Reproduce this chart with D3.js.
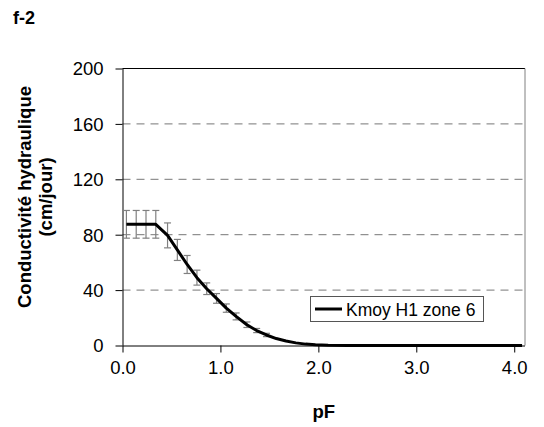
<!DOCTYPE html>
<html><head><meta charset="utf-8">
<script src="https://cdn.jsdelivr.net/npm/d3@7"></script>
<style>
body{margin:0;background:#fff;}
text{font-family:Arial,"Liberation Sans",sans-serif;fill:#000;}
</style></head>
<body><svg id="c" width="544" height="427"></svg>
<script>
const title = "f-2";
const seriesName = "Kmoy H1 zone 6";
const xTitle = "pF";
const yTitle = ["Conductivité hydraulique", "(cm/jour)"];
const xTicks = [0, 1, 2, 3, 4];
const xTickLabels = ["0.0", "1.0", "2.0", "3.0", "4.0"];
const yTicks = [0, 40, 80, 120, 160, 200];
const pF = [0.04, 0.14, 0.24, 0.34, 0.46, 0.56, 0.66, 0.76, 0.86, 0.96, 1.06, 1.16, 1.27, 1.37, 1.47, 1.57, 1.67, 1.77, 1.87, 1.97, 2.1, 2.3, 2.5, 3.0, 3.5, 4.08];
const K  = [87.5, 87.5, 87.5, 87.5, 79.5, 69, 58.5, 49, 41, 34, 27, 21, 15, 10.8, 7.6, 5.0, 3.2, 1.9, 1.0, 0.5, 0.2, 0.08, 0.03, 0.01, 0, 0];
const Kerr = [10, 10, 10, 10, 9, 7.6, 6.5, 5.4, 4.2, 3.5, 3, 2.5, 2, 1.5, 1.2, 0, 0, 0, 0, 0, 0, 0, 0, 0, 0, 0];

const svg = d3.select("#c");
const L = 122.5, R = 525, T = 68.5, B = 345.5;
const x = d3.scaleLinear().domain([0, 4.11]).range([L, R]);
const y = d3.scaleLinear().domain([0, 200]).range([B, T]);

// gridlines
svg.append("g").selectAll("line").data(yTicks.filter(v => v > 0 && v < 200)).join("line")
  .attr("x1", L).attr("x2", R).attr("y1", d => y(d)).attr("y2", d => y(d))
  .attr("stroke", "#777").attr("stroke-width", 1).attr("stroke-dasharray", "8,6");
// top border & right border
svg.append("line").attr("x1", L).attr("x2", R).attr("y1", y(200)).attr("y2", y(200)).attr("stroke", "#000");
svg.append("line").attr("x1", R).attr("x2", R).attr("y1", T).attr("y2", B).attr("stroke", "#808080");

// axes
const xAxis = d3.axisBottom(x).tickValues(xTicks).tickFormat((d, i) => xTickLabels[i]).tickSize(7).tickPadding(8);
const gx = svg.append("g").attr("transform", `translate(0,${B})`).call(xAxis);
gx.select(".domain").attr("d", `M${L},0.5H${R}`).attr("stroke", "#000");
gx.selectAll(".tick line").attr("stroke", "#000");
gx.selectAll(".tick text").style("font-size", "18.5px").attr("font-family", null);

const yAxis = d3.axisLeft(y).tickValues(yTicks).tickSize(7).tickPadding(12);
const gy = svg.append("g").attr("transform", `translate(${L},0)`).call(yAxis);
gy.select(".domain").attr("d", `M0.5,${T}V${B}`).attr("stroke", "#000");
gy.selectAll(".tick line").attr("stroke", "#000");
gy.selectAll(".tick text").style("font-size", "18.5px").attr("font-family", null).attr("dy", "0.35em");

// error bars
const eb = svg.append("g").attr("stroke", "#808080").attr("stroke-width", 1.2);
const pts = pF.map((p, i) => ({p, k: K[i], e: Kerr[i]}));
pts.filter(d => d.e > 0).forEach(d => {
  const cx = x(d.p);
  eb.append("line").attr("x1", cx).attr("x2", cx).attr("y1", y(d.k + d.e)).attr("y2", y(d.k - d.e));
  eb.append("line").attr("x1", cx - 3.5).attr("x2", cx + 3.5).attr("y1", y(d.k + d.e)).attr("y2", y(d.k + d.e));
  eb.append("line").attr("x1", cx - 3.5).attr("x2", cx + 3.5).attr("y1", y(d.k - d.e)).attr("y2", y(d.k - d.e));
});

// line
svg.append("path").datum(pts)
  .attr("d", d3.line().x(d => x(d.p)).y(d => y(d.k)))
  .attr("fill", "none").attr("stroke", "#000").attr("stroke-width", 3).attr("stroke-linejoin", "round");

// legend
const lg = svg.append("g");
lg.append("rect").attr("x", 310.5).attr("y", 296.5).attr("width", 173).attr("height", 25)
  .attr("fill", "#fff").attr("stroke", "#555");
lg.append("line").attr("x1", 315).attr("x2", 342).attr("y1", 309).attr("y2", 309).attr("stroke", "#000").attr("stroke-width", 3);
lg.append("text").attr("x", 346).attr("y", 315.5).style("font-size", "17.5px").text(seriesName);

// titles
svg.append("text").attr("x", 13).attr("y", 24).style("font-size", "18px").style("font-weight", "bold").text(title);
svg.append("text").attr("x", (L + R) / 2).attr("y", 418).attr("text-anchor", "middle")
  .style("font-size", "18.5px").style("font-weight", "bold").text(xTitle);
const yt = svg.append("text").attr("transform", "translate(0,197) rotate(-90)").attr("text-anchor", "middle")
  .style("font-size", "18.5px").style("font-weight", "bold");
yt.append("tspan").attr("x", 0).attr("y", 31).text(yTitle[0]);
yt.append("tspan").attr("x", 0).attr("y", 52).text(yTitle[1]);
</script></body></html>
